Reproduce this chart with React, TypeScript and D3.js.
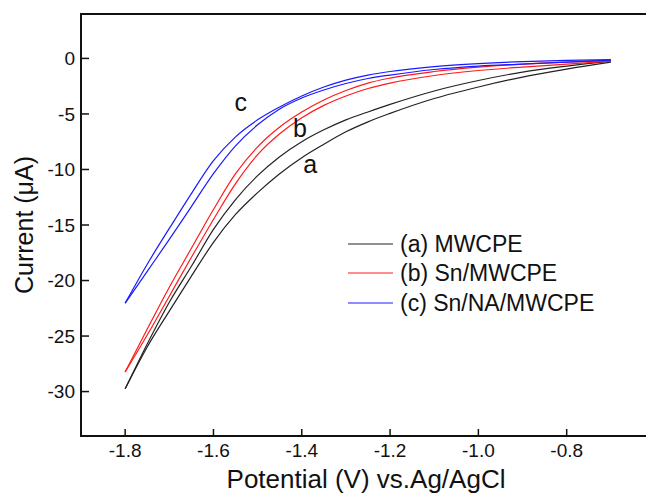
import * as d3 from "d3";

// potentials (V vs Ag/AgCl) where the currents were read
const potentials = [-1.8, -1.75, -1.7, -1.65, -1.6, -1.55, -1.5, -1.45, -1.4, -1.35, -1.3, -1.25, -1.2, -1.1, -1.0, -0.9, -0.8, -0.7];

// each electrode: two scan branches (µA)
const mwcpeA = [-29.75, -25.71, -21.95, -18.72, -15.4, -12.71, -10.56, -8.85, -7.5, -6.43, -5.53, -4.82, -4.14, -2.93, -1.99, -1.23, -0.69, -0.24];
const mwcpeB = [-29.75, -25.98, -22.75, -19.61, -16.56, -14.05, -12.08, -10.38, -8.94, -7.73, -6.61, -5.71, -4.95, -3.61, -2.57, -1.68, -0.96, -0.33];
const snA = [-28.23, -24.37, -20.6, -17.1, -13.61, -10.38, -7.96, -6.17, -4.82, -3.74, -2.89, -2.22, -1.77, -1.18, -0.78, -0.51, -0.33, -0.2];
const snB = [-28.23, -24.91, -21.41, -17.91, -14.5, -11.27, -8.67, -6.79, -5.35, -4.23, -3.38, -2.71, -2.22, -1.54, -1.09, -0.78, -0.51, -0.24];
const snNaA = [-22.04, -18.53, -15.31, -12.17, -9.21, -7.06, -5.53, -4.37, -3.38, -2.57, -1.95, -1.5, -1.18, -0.74, -0.47, -0.29, -0.18, -0.11];
const snNaB = [-22.04, -19.17, -16.3, -13.34, -10.38, -7.87, -5.98, -4.55, -3.56, -2.84, -2.26, -1.81, -1.5, -1.0, -0.69, -0.51, -0.33, -0.15];

const seriesNames = ["(a) MWCPE", "(b) Sn/MWCPE", "(c) Sn/NA/MWCPE"];
const seriesColors = ["#222222", "#ff1a1a", "#1a1aff"];
const curveLetters = ["a", "b", "c"];
const xTicks = [-1.8, -1.6, -1.4, -1.2, -1.0, -0.8];
const yTicks = [0, -5, -10, -15, -20, -25, -30];

const width = 646;
const height = 494;
const marginLeft = 81;
const marginTop = 14;
const plotRight = 655;
const plotBottom = 436;
const font = "'Liberation Sans', Arial, sans-serif";

export default function App() {
  const x = d3.scaleLinear().domain([-1.9, -0.6]).range([marginLeft, plotRight]);
  const y = d3.scaleLinear().domain([-34, 4]).range([plotBottom, marginTop]);

  const line = d3
    .line<number>()
    .x((d, i) => x(potentials[i]))
    .y(d => y(d))
    .curve(d3.curveMonotoneX);

  const branches = [
    [mwcpeA, mwcpeB],
    [snA, snB],
    [snNaA, snNaB]
  ];

  // curve labels a, b, c placed beside their loops (potential, current at baseline)
  const letterPos: [number, number][] = [[-1.381, -10.3], [-1.404, -7.06], [-1.538, -4.73]];

  const legendY = [244, 273, 303];

  return (
    <svg
      width={width}
      height={height}
      style={{ position: "absolute", left: 0, top: 0, background: "#fff" }}
      fontFamily={font}
    >
      {branches.map((pair, i) =>
        pair.map((vals, j) => (
          <path key={`${i}-${j}`} d={line(vals) ?? ""} fill="none" stroke={seriesColors[i]} strokeWidth={1.2} />
        ))
      )}

      <rect
        x={marginLeft}
        y={marginTop}
        width={plotRight - marginLeft}
        height={plotBottom - marginTop}
        fill="none"
        stroke="#111"
        strokeWidth={2}
      />

      {xTicks.map(t => (
        <g key={t}>
          <line x1={x(t)} x2={x(t)} y1={plotBottom} y2={plotBottom - 7} stroke="#111" strokeWidth={1.5} />
          <text x={x(t)} y={457} fontSize={19} textAnchor="middle" fill="#111">
            {d3.format(".1f")(t).replace("−", "-")}
          </text>
        </g>
      ))}

      {yTicks.map(t => (
        <g key={t}>
          <line x1={marginLeft} x2={marginLeft + 8} y1={y(t)} y2={y(t)} stroke="#111" strokeWidth={1.5} />
          <text x={75} y={y(t)} dy="0.35em" fontSize={19} textAnchor="end" fill="#111">
            {String(t)}
          </text>
        </g>
      ))}

      <text x={366} y={488} fontSize={26} textAnchor="middle" fill="#111">
        Potential (V) vs.Ag/AgCl
      </text>
      <text transform={`translate(33,225) rotate(-90)`} fontSize={25} textAnchor="middle" fill="#111">
        Current (μA)
      </text>

      {curveLetters.map((c, i) => (
        <text
          key={c}
          x={x(letterPos[i][0])}
          y={y(letterPos[i][1])}
          fontSize={25}
          textAnchor="middle"
          fill="#111"
        >
          {c}
        </text>
      ))}

      {seriesNames.map((name, i) => (
        <g key={name}>
          <line x1={348} x2={393} y1={legendY[i]} y2={legendY[i]} stroke={seriesColors[i]} strokeWidth={1} />
          <text x={400} y={legendY[i]} dy="0.35em" fontSize={23} fill="#111">
            {name}
          </text>
        </g>
      ))}
    </svg>
  );
}
